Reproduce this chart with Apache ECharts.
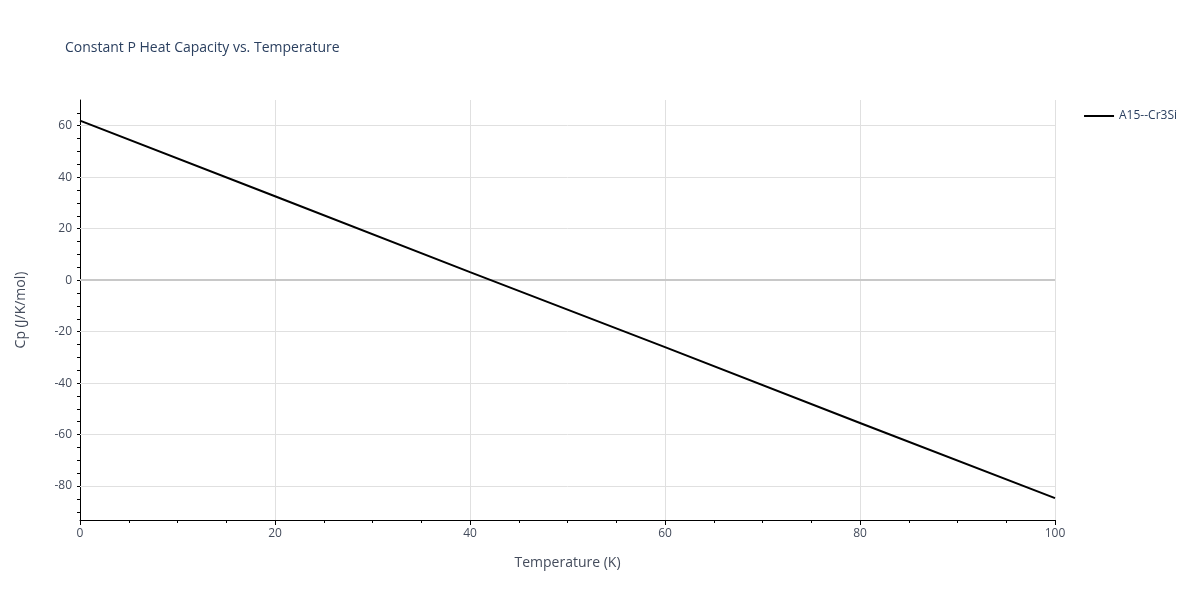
<!DOCTYPE html>
<html><head><meta charset="utf-8">
<script src="https://cdn.jsdelivr.net/npm/echarts@6/dist/echarts.min.js"></script>
<style>html,body{margin:0;padding:0;background:#fff}#c{width:1200px;height:600px}</style>
</head><body><div id="c"></div>
<script>
const temps = [0, 20, 40, 60, 80, 100];
const cp = [62.0, 32.6, 3.1, -26.0, -55.5, -84.7];
const yLabels = [-80, -60, -40, -20, 0, 20, 40, 60];
const yMinor = [];
for (let v = -90; v <= 65; v += 5) yMinor.push(v);
const seriesName = 'A15--Cr3Si';
const chart = echarts.init(document.getElementById('c'));
const txt = '#444c5c';
chart.setOption({
  animation: false,
  textStyle: {fontFamily: 'Open Sans'},
  title: {text: 'Constant P Heat Capacity vs. Temperature', left: 60, top: 36,
    textStyle: {fontSize: 14, fontWeight: 'normal', color: '#2a3f5f'}},
  legend: {right: 18, top: 105, orient: 'vertical', icon: 'path://M0,0H30V2H0Z', itemWidth: 30, itemHeight: 2,
    textStyle: {color: '#2a3f5f', fontSize: 12}, data: [seriesName]},
  grid: {left: 80, right: 145, top: 100, bottom: 80},
  xAxis: {type: 'value', min: 0, max: 100, interval: 20,
    name: 'Temperature (K)', nameLocation: 'middle', nameGap: 36, nameTextStyle: {color: txt, fontSize: 14},
    axisLine: {onZero: false, lineStyle: {color: '#000'}},
    axisTick: {show: true, length: 5, lineStyle: {color: '#000'}},
    minorTick: {show: true, splitNumber: 4, length: 3, lineStyle: {color: '#000'}},
    axisLabel: {color: txt, fontSize: 12},
    splitLine: {show: true, lineStyle: {color: '#e0e0e0'}}},
  yAxis: {type: 'value', min: -93.2, max: 70,
    name: 'Cp (J/K/mol)', nameLocation: 'middle', nameGap: 52, nameTextStyle: {color: txt, fontSize: 14},
    axisLine: {show: true, onZero: false, lineStyle: {color: '#000'}},
    axisTick: {show: true, length: 3, customValues: yMinor, lineStyle: {color: '#000'}},
    axisLabel: {color: txt, fontSize: 12, customValues: yLabels},
    splitLine: {show: false}},
  series: [{
    name: seriesName, type: 'line', data: temps.map((t, i) => [t, cp[i]]),
    showSymbol: false, lineStyle: {color: '#000', width: 2}, itemStyle: {color: '#000'},
    markLine: {silent: true, symbol: 'none', label: {show: false}, animation: false,
      data: yLabels.map(v => ({yAxis: v, lineStyle: {color: v === 0 ? '#c8c8c8' : '#e0e0e0', width: v === 0 ? 2 : 1, type: 'solid'}}))},
    z: 5
  }]
});
</script></body></html>
